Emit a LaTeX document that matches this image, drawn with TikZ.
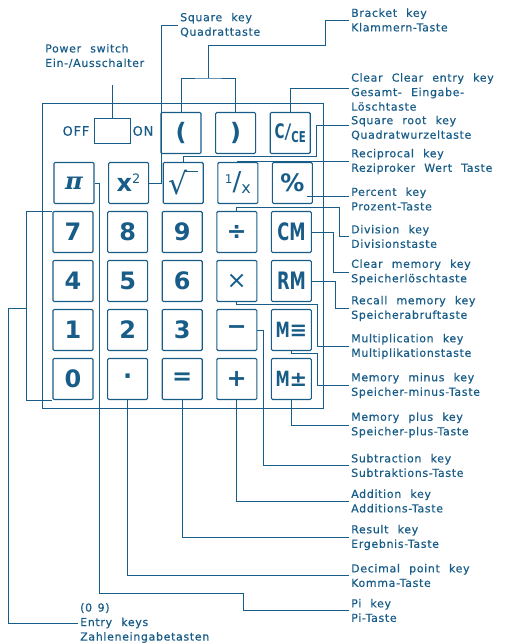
\documentclass[tikz,border=0pt]{standalone}
\usepackage{fontspec}
\usepackage{graphicx}
\setmainfont[LetterSpace=6,WordSpace=2.2,FakeBold=0.5]{DejaVu Sans}
\newfontfamily\keyfont{DejaVu Sans}
\newfontfamily\pifont{DejaVu Serif}
\usetikzlibrary{positioning}
\definecolor{ink}{RGB}{24,92,136}
\newcommand{\cnd}[1]{\scalebox{0.68}[1]{#1}}
\newcommand{\surdbar}{√\kern-3.2pt\rule[\dimexpr\fontcharht\font"221A-1.7pt\relax]{13pt}{1.7pt}}
\tikzset{
  key/.style={draw=ink, line width=1.1pt, rounded corners=1.2pt, minimum width=40pt, minimum height=41pt, inner sep=0pt, text=ink, font=\keyfont\bfseries\fontsize{24}{24}\selectfont},
  lbl/.style={anchor=west, align=left, text=ink, inner sep=2pt, font=\fontsize{11}{14.5}\selectfont},
  lead/.style={draw=ink, line width=0.8pt},
  swtxt/.style={text=ink, inner sep=0pt, font=\fontsize{13}{13}\selectfont}
}
\begin{document}
\begin{tikzpicture}[x=1pt, y=-1pt, node distance=13.5pt]
\useasboundingbox (0,0) rectangle (504,644);
\draw[lead, line width=1pt] (42,104) rectangle (323,408);
\node[draw=ink, line width=0.9pt, minimum width=36pt, minimum height=25pt, inner sep=0pt] (sw) at (112,131) {};
\node[swtxt, left=4pt of sw] (off) {OFF};
\node[swtxt, right=2pt of sw] (on) {ON};
\node[key] (lp) at (181,133) {(};
\node[key, right=of lp] (rp) {)};
\node[key, right=of rp] (cce) {\fontsize{20}{20}\selectfont\cnd{C}\mdseries/\raisebox{-4pt}{\fontsize{15}{15}\selectfont\bfseries\cnd{CE}}};
\node[key] (pik0) at (74,183) {\pifont\bfseries\itshape π};
\node[key, right=of pik0] (sq) {x\raisebox{8pt}{\fontsize{13}{13}\selectfont\mdseries 2}};
\node[key, right=of sq] (rt) {\fontsize{30}{30}\selectfont\mdseries\surdbar};
\node[key, right=of rt] (rc) {\raisebox{7pt}{\fontsize{12}{12}\selectfont\mdseries 1}{\fontsize{26}{26}\selectfont\mdseries/}\raisebox{-3pt}{\fontsize{16}{16}\selectfont\mdseries x}};
\node[key, right=of rc] (pc) {\%};
\node[key] (k7) at (73,232) {7};
\node[key, right=of k7] (k8) {8};
\node[key, right=of k8] (k9) {9};
\node[key, right=of k9] (dv) {÷};
\node[key, right=of dv] (cm) {\cnd{CM}};
\node[key] (k4) at (73,281) {4};
\node[key, right=of k4] (k5) {5};
\node[key, right=of k5] (k6) {6};
\node[key, right=of k6] (mu) {\mdseries ×};
\node[key, right=of mu] (rm) {\cnd{RM}};
\node[key] (k1) at (73,330) {1};
\node[key, right=of k1] (k2) {2};
\node[key, right=of k2] (k3) {3};
\node[key, right=of k3] (mi) {−};
\node[key, right=of mi] (mm) {\fontsize{21}{21}\selectfont\cnd{M}≡};
\node[key] (k0) at (73,379) {0};
\node[key, right=of k0] (dt) {·};
\node[key, right=of dt] (eq) {=};
\node[key, right=of eq] (pl) {+};
\node[key, right=of pl] (mp) {\fontsize{21}{21}\selectfont\cnd{M}±};
\node[lbl] (pwr) at (43,56) {Power switch\\Ein-/Ausschalter};
\node[lbl] (sqk) at (178,25) {Square key\\Quadrattaste};
\node[lbl] (brk) at (349,20) {Bracket key\\Klammern-Taste};
\node[lbl] (clr) at (349,92) {Clear Clear entry key\\Gesamt- Eingabe-\\Löschtaste};
\node[lbl] (sqr) at (349,128) {Square root key\\Quadratwurzeltaste};
\node[lbl] (rcp) at (349,161.5) {Reciprocal key\\Reziproker Wert Taste};
\node[lbl] (pct) at (349,199) {Percent key\\Prozent-Taste};
\node[lbl] (div) at (349,236.5) {Division key\\Divisionstaste};
\node[lbl] (clm) at (349,272) {Clear memory key\\Speicherlöschtaste};
\node[lbl] (rcl) at (349,308.5) {Recall memory key\\Speicherabruftaste};
\node[lbl] (mlt) at (349,346.5) {Multiplication key\\Multiplikationstaste};
\node[lbl] (mmn) at (349,385.5) {Memory minus key\\Speicher-minus-Taste};
\node[lbl] (mpl) at (349,425) {Memory plus key\\Speicher-plus-Taste};
\node[lbl] (sub) at (349,465.5) {Subtraction key\\Subtraktions-Taste};
\node[lbl] (add) at (349,501) {Addition key\\Additions-Taste};
\node[lbl] (res) at (349,537.5) {Result key\\Ergebnis-Taste};
\node[lbl] (dec) at (349,575.5) {Decimal point key\\Komma-Taste};
\node[lbl] (pik) at (349,610.5) {Pi key\\Pi-Taste};
\node[lbl] (ent) at (78,623) {(0\enspace 9)\\Entry keys\\Zahleneingabetasten};
\coordinate (brkj) at (208,78);
\coordinate (entj) at (27,308);
\draw[lead] (sw.north) -- ++(0,-33);
\draw[lead] (sq.east) -- ++(12,0) |- (sqk.west);
\draw[lead] (lp.north) |- (brkj) -| (rp.north);
\draw[lead] (brkj) -- ++(0,-33) -- ++(117,0) |- (brk.west);
\draw[lead] (cce.north) |- ([yshift=4pt]clr.west);
\draw[lead] (rt.north) -- ++(0,-6) -- ++(133,0) |- ([yshift=3pt]sqr.west);
\draw[lead] (rc.north) |- (rcp.west);
\draw[lead] ([yshift=3pt]pct.west) -- ++(-42,0);
\draw[lead] (dv.north) -- ++(0,-4) -- ++(103,0) |- (div.west);
\draw[lead] (cm.east) -- ++(21,0) |- (clm.west);
\draw[lead] (rm.east) -- ++(23,0) |- (rcl.west);
\draw[lead] (mu.south) -- ++(0,2) -- ++(81,0) |- (mlt.west);
\draw[lead] (mm.south) -- ++(0,2) -- ++(26,0) |- (mmn.west);
\draw[lead] (mp.south) |- (mpl.west);
\draw[lead] (mi.east) -- ++(6,0) |- (sub.west);
\draw[lead] (pl.south) |- (add.west);
\draw[lead] (eq.south) |- (res.west);
\draw[lead] (dt.south) |- (dec.west);
\draw[lead] (pik0.east) -- ++(5,0) -- ++(0,410) -- ++(144,0) |- (pik.west);
\draw[lead] (k7.north west) -- ++(-26,0) |- (k0.south west);
\draw[lead] (entj) -- ++(-19,0) |- (ent.west);
\end{tikzpicture}
\end{document}
